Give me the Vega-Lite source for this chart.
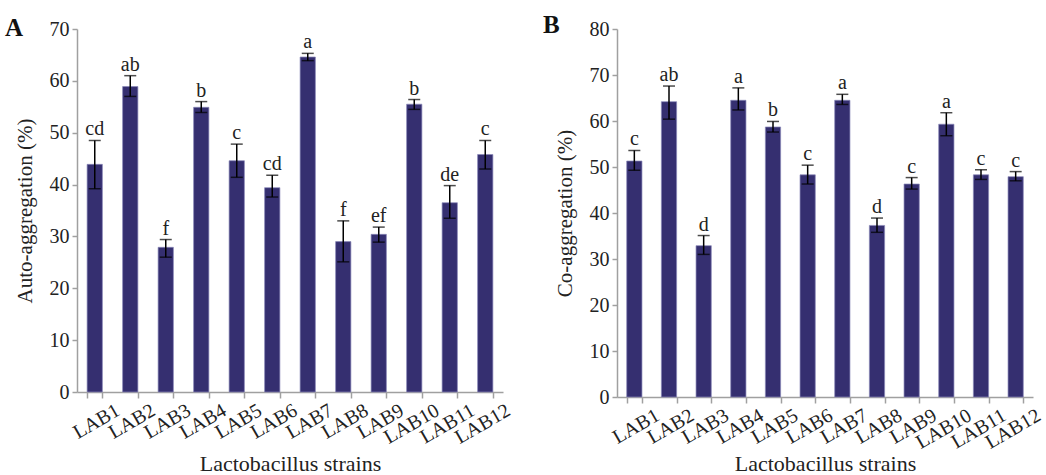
{
  "$schema": "https://vega.github.io/schema/vega-lite/v6.json",
  "background": "white",
  "padding": {"left": 5, "top": 13, "right": 5, "bottom": 0},
  "config": {
    "font": "Liberation Serif",
    "view": {"stroke": null},
    "axis": {
      "labelFont": "Liberation Serif",
      "titleFont": "Liberation Serif",
      "labelFontSize": 20,
      "titleFontSize": 21,
      "titleFontWeight": "normal",
      "labelColor": "#222222",
      "titleColor": "#222222",
      "domainColor": "#a0a0a0",
      "tickColor": "#a0a0a0",
      "domainWidth": 1.5,
      "tickWidth": 1.5,
      "grid": false
    },
    "title": {"font": "Liberation Serif", "fontSize": 25, "fontWeight": "bold", "anchor": "start", "frame": "group", "color": "#111111"}
  },
  "datasets": {
    "auto": [
      {"strain": "LAB1", "mean": 43.9, "lo": 39.2, "hi": 48.5, "letter": "cd"},
      {"strain": "LAB2", "mean": 58.9, "lo": 57.0, "hi": 61.0, "letter": "ab"},
      {"strain": "LAB3", "mean": 27.9, "lo": 26.0, "hi": 29.4, "letter": "f"},
      {"strain": "LAB4", "mean": 54.9, "lo": 53.9, "hi": 56.0, "letter": "b"},
      {"strain": "LAB5", "mean": 44.6, "lo": 41.4, "hi": 47.8, "letter": "c"},
      {"strain": "LAB6", "mean": 39.4, "lo": 37.6, "hi": 41.8, "letter": "cd"},
      {"strain": "LAB7", "mean": 64.6, "lo": 63.9, "hi": 65.3, "letter": "a"},
      {"strain": "LAB8", "mean": 29.0, "lo": 25.1, "hi": 33.0, "letter": "f"},
      {"strain": "LAB9", "mean": 30.4, "lo": 28.9, "hi": 31.8, "letter": "ef"},
      {"strain": "LAB10", "mean": 55.5, "lo": 54.5, "hi": 56.4, "letter": "b"},
      {"strain": "LAB11", "mean": 36.5, "lo": 33.5, "hi": 39.8, "letter": "de"},
      {"strain": "LAB12", "mean": 45.8, "lo": 43.0, "hi": 48.5, "letter": "c"}
    ],
    "co": [
      {"strain": "LAB1", "mean": 51.3, "lo": 49.3, "hi": 53.6, "letter": "c"},
      {"strain": "LAB2", "mean": 64.2, "lo": 60.4, "hi": 67.6, "letter": "ab"},
      {"strain": "LAB3", "mean": 32.9, "lo": 31.0, "hi": 35.1, "letter": "d"},
      {"strain": "LAB4", "mean": 64.5, "lo": 62.4, "hi": 67.2, "letter": "a"},
      {"strain": "LAB5", "mean": 58.7, "lo": 57.6, "hi": 59.9, "letter": "b"},
      {"strain": "LAB6", "mean": 48.3, "lo": 46.3, "hi": 50.4, "letter": "c"},
      {"strain": "LAB7", "mean": 64.5, "lo": 63.6, "hi": 65.8, "letter": "a"},
      {"strain": "LAB8", "mean": 37.3, "lo": 35.8, "hi": 38.9, "letter": "d"},
      {"strain": "LAB9", "mean": 46.3, "lo": 45.2, "hi": 47.7, "letter": "c"},
      {"strain": "LAB10", "mean": 59.3, "lo": 56.8, "hi": 61.8, "letter": "a"},
      {"strain": "LAB11", "mean": 48.3, "lo": 47.3, "hi": 49.4, "letter": "c"},
      {"strain": "LAB12", "mean": 47.9, "lo": 47.0, "hi": 49.0, "letter": "c"}
    ]
  },
  "spacing": 29,
  "hconcat": [
    {
      "width": 426,
      "height": 363,
      "title": {"text": "A", "dx": -72, "dy": 22, "offset": 0},
      "data": {"name": "auto"},
      "encoding": {
        "x": {
          "field": "strain", "type": "nominal", "sort": null,
          "scale": {"paddingInner": 0.57, "paddingOuter": 0.285},
          "title": "Lactobacillus strains",
          "axis": {"labelAngle": -30, "labelAlign": "right", "labelBaseline": "top", "tickBand": "extent", "labelOffset": 18, "tickSize": 6, "labelPadding": 2, "titlePadding": 6, "titleFontSize": 22}
        }
      },
      "layer": [
        {
          "mark": {"type": "bar", "color": "#352f70", "stroke": "#8a88b8", "strokeWidth": 0.7},
          "encoding": {
            "y": {"field": "mean", "type": "quantitative", "title": "Auto-aggregation (%)",
              "scale": {"domain": [0, 70]},
              "axis": {"values": [0, 10, 20, 30, 40, 50, 60, 70], "tickSize": 5, "labelPadding": 3, "titlePadding": 14}}
          }
        },
        {
          "mark": {"type": "errorbar", "color": "black", "thickness": 1.5, "ticks": {"size": 12, "thickness": 1.5, "color": "black"}},
          "encoding": {
            "y": {"field": "lo", "type": "quantitative", "title": "Auto-aggregation (%)"},
            "y2": {"field": "hi"}
          }
        },
        {
          "mark": {"type": "text", "baseline": "alphabetic", "dy": -5, "fontSize": 20, "font": "Liberation Serif", "color": "#222222"},
          "encoding": {
            "y": {"field": "hi", "type": "quantitative", "title": "Auto-aggregation (%)"},
            "text": {"field": "letter"}
          }
        }
      ]
    },
    {
      "width": 416,
      "height": 368,
      "title": {"text": "B", "dx": -74, "dy": 19, "offset": 0},
      "data": {"name": "co"},
      "encoding": {
        "x": {
          "field": "strain", "type": "nominal", "sort": null,
          "scale": {"paddingInner": 0.56, "paddingOuter": 0.28},
          "title": "Lactobacillus strains",
          "axis": {"labelAngle": -30, "labelAlign": "right", "labelBaseline": "top", "tickBand": "extent", "labelOffset": 18, "tickSize": 6, "labelPadding": 2, "titlePadding": 1, "titleFontSize": 22}
        }
      },
      "layer": [
        {
          "mark": {"type": "bar", "color": "#352f70", "stroke": "#8a88b8", "strokeWidth": 0.7},
          "encoding": {
            "y": {"field": "mean", "type": "quantitative", "title": "Co-aggregation (%)",
              "scale": {"domain": [0, 80]},
              "axis": {"values": [0, 10, 20, 30, 40, 50, 60, 70, 80], "tickSize": 5, "labelPadding": 3, "titlePadding": 14}}
          }
        },
        {
          "mark": {"type": "errorbar", "color": "black", "thickness": 1.5, "ticks": {"size": 12, "thickness": 1.5, "color": "black"}},
          "encoding": {
            "y": {"field": "lo", "type": "quantitative", "title": "Co-aggregation (%)"},
            "y2": {"field": "hi"}
          }
        },
        {
          "mark": {"type": "text", "baseline": "alphabetic", "dy": -5, "fontSize": 20, "font": "Liberation Serif", "color": "#222222"},
          "encoding": {
            "y": {"field": "hi", "type": "quantitative", "title": "Co-aggregation (%)"},
            "text": {"field": "letter"}
          }
        }
      ]
    }
  ]
}
